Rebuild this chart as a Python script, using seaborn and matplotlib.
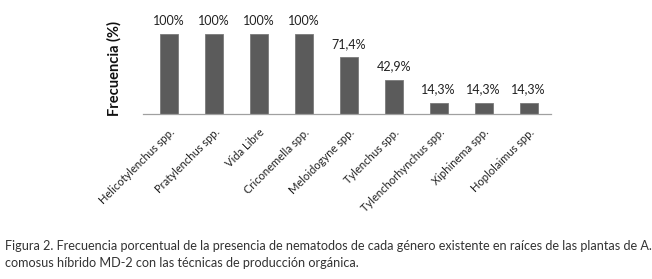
import matplotlib
matplotlib.use("Agg")
import matplotlib.pyplot as plt
import seaborn as sns
import pandas as pd

# ---------------------------------------------------------------------------
# Data
# ---------------------------------------------------------------------------
generos = [
    "Helicotylenchus spp.", "Pratylenchus spp.", "Vida Libre",
    "Criconemella spp.", "Meloidogyne spp.", "Tylenchus spp.",
    "Tylenchorhynchus spp.", "Xiphinema spp.", "Hoplolaimus spp.",
]
frecuencia = [100, 100, 100, 100, 71.4, 42.9, 14.3, 14.3, 14.3]
etiquetas = ["100%", "100%", "100%", "100%", "71,4%", "42,9%", "14,3%", "14,3%", "14,3%"]

caption = ("Figura 2. Frecuencia porcentual de la presencia de nematodos de cada género "
           "existente en raíces de las plantas de A.\n"
           "comosus híbrido MD-2 con las técnicas de producción orgánica.")

df = pd.DataFrame({"genero": generos, "frecuencia": frecuencia})

# ---------------------------------------------------------------------------
# Figure
# ---------------------------------------------------------------------------
sns.set_style("white")
plt.rcParams["font.family"] = ["Lato", "DejaVu Sans"]

fig = plt.figure(figsize=(6.52, 2.79), dpi=100)
ax = fig.add_axes([143 / 652, 1 - 114 / 279, (551 - 143) / 652, 80 / 279])

sns.barplot(data=df, x="genero", y="frecuencia", color="#5b5b5b",
            width=0.4, saturation=1, edgecolor="#7a7a7a", linewidth=0.6, ax=ax)

ax.set_ylim(0, 100)
ax.set_xlim(-0.58, 8.5)

for i, (v, t) in enumerate(zip(frecuencia, etiquetas)):
    ax.text(i, v + 9, t, ha="center", va="bottom", fontsize=9,
            color="#222222", clip_on=False)

ax.set_yticks([])
ax.set_xlabel("")
ax.set_ylabel("Frecuencia (%)", fontsize=10.5, fontweight="bold",
              color="#111111")
ax.yaxis.set_label_coords(-0.052, 0.57)

ax.tick_params(axis="x", length=0, pad=9)
plt.setp(ax.get_xticklabels(), rotation=45, ha="right", rotation_mode="anchor",
         fontsize=8, color="#222222")

for s in ["top", "right", "left"]:
    ax.spines[s].set_visible(False)
ax.spines["bottom"].set_color("#a0a0a0")
ax.spines["bottom"].set_linewidth(0.9)

fig.text(0.008, 1 - 240 / 279, caption, ha="left", va="top", fontsize=9.1,
         color="#333333", linespacing=1.5)

fig.savefig("out.png", dpi=100)
